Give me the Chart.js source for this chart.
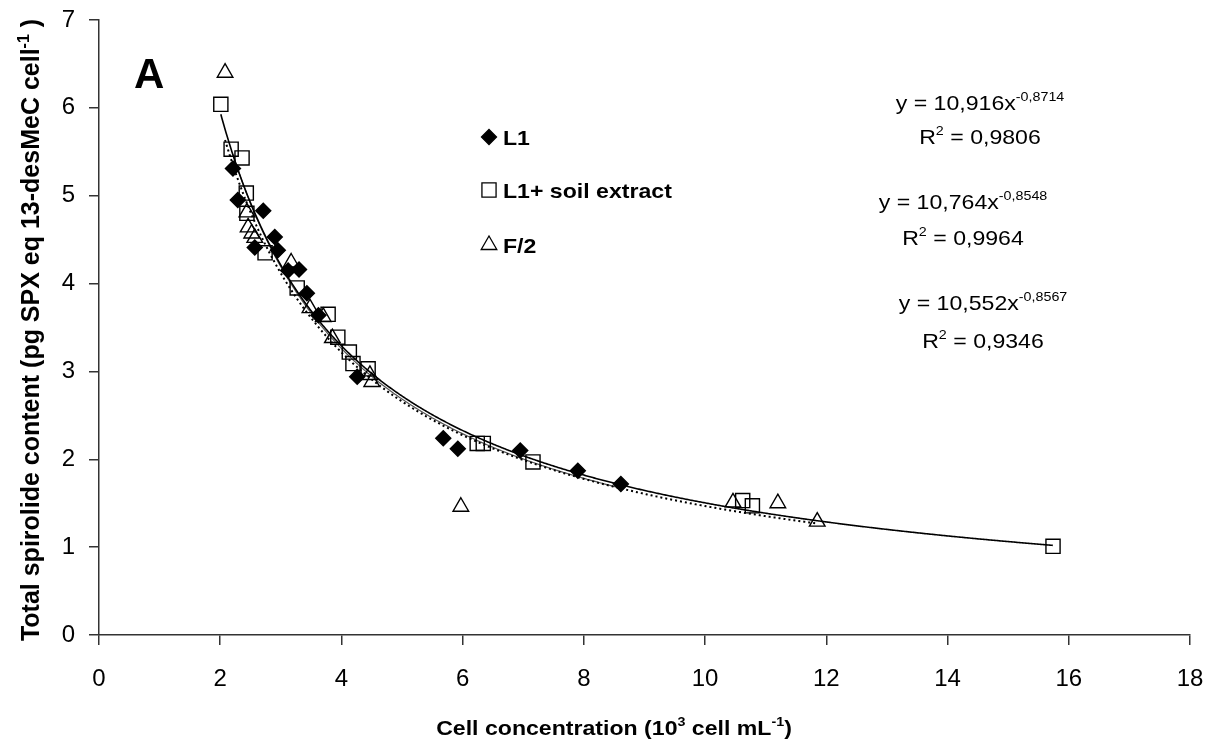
<!DOCTYPE html>
<html>
<head>
<meta charset="utf-8">
<script src="https://cdn.jsdelivr.net/npm/chart.js@4/dist/chart.umd.min.js"></script>
<style>
  html, body { margin: 0; padding: 0; background: #fff; }
  #wrap { width: 1225px; height: 749px; }
</style>
</head>
<body>
<div id="wrap"><canvas id="spxChart" width="1225" height="749"></canvas></div>
<script>
// Series names (legend)
const seriesNames = ['L1', 'L1+ soil extract', 'F/2'];

// L1 (filled diamonds)
const l1X = [2.21, 2.29, 2.71, 2.90, 2.57, 2.95, 3.12, 3.30, 3.43, 3.62, 4.26, 5.68, 5.92, 6.95, 7.90, 8.61];
const l1Y = [5.31, 4.95, 4.83, 4.53, 4.41, 4.38, 4.15, 4.16, 3.89, 3.64, 2.94, 2.24, 2.12, 2.10, 1.87, 1.72];

// L1 + soil extract (open squares)
const soilX = [2.01, 2.18, 2.36, 2.43, 2.44, 2.74, 3.27, 3.78, 3.94, 4.13, 4.19, 4.44, 6.24, 6.34, 7.16, 10.62, 10.78, 15.74];
const soilY = [6.04, 5.53, 5.43, 5.03, 4.80, 4.35, 3.95, 3.65, 3.39, 3.22, 3.09, 3.03, 2.18, 2.18, 1.97, 1.53, 1.47, 1.01];

// F/2 (open triangles)
const f2X = [2.08, 2.44, 2.46, 2.52, 2.57, 3.17, 3.48, 3.70, 3.85, 4.47, 4.50, 5.97, 10.46, 11.20, 11.85];
const f2Y = [6.40, 4.81, 4.64, 4.57, 4.52, 4.24, 3.72, 3.62, 3.38, 2.96, 2.88, 1.46, 1.51, 1.50, 1.29];

// Power trendlines y = a * x^b, as printed on the chart
const fitA = [10.916, 10.764, 10.552];
const fitB = [-0.8714, -0.8548, -0.8567];
const fitR2 = [0.9806, 0.9964, 0.9346];

// Axis ticks
const xTicks = [0, 2, 4, 6, 8, 10, 12, 14, 16, 18];
const yTicks = [0, 1, 2, 3, 4, 5, 6, 7];

const FONT = "'Liberation Sans', Arial, Helvetica, sans-serif";
const AXIS_COLOR = '#333';
const TEXT_STRETCH = 1.1;

/**
 * Zip two arrays into scatter points
 */
function toPoints(xs, ys) {
  return xs.map((x, i) => ({ x: x, y: ys[i] }));
}

/**
 * Number with a decimal comma
 */
function fmt(v, digits) {
  return v.toFixed(digits).replace('.', ',');
}

/**
 * Draw a line of text made of parts, some of them superscript.
 * align: 'center' or 'left' relative to x
 */
function drawRich(ctx, parts, x, y, opts) {
  const weight = opts.bold ? 'bold ' : '';
  const size = opts.size;
  const supSize = Math.round(size * 0.62);
  const sx = opts.sx || 1;
  let total = 0;
  parts.forEach(p => {
    ctx.font = weight + (p.sup ? supSize : size) + 'px ' + FONT;
    p.w = ctx.measureText(p.t).width;
    total += p.w;
  });
  ctx.save();
  ctx.translate(x, y);
  ctx.scale(sx, 1);
  let cx = opts.align === 'left' ? 0 : -total / 2;
  ctx.textAlign = 'left';
  ctx.textBaseline = 'alphabetic';
  parts.forEach(p => {
    ctx.font = weight + (p.sup ? supSize : size) + 'px ' + FONT;
    ctx.fillText(p.t, cx, p.sup ? -size * 0.42 : 0);
    cx += p.w;
  });
  ctx.restore();
}

const seriesData = [toPoints(l1X, l1Y), toPoints(soilX, soilY), toPoints(f2X, f2Y)];
const seriesStyle = [
  { pointStyle: 'rectRot', radius: 7.5, fill: '#000', line: [], lineColor: '#555', lineWidth: 1.2 },
  { pointStyle: 'rect', radius: 10, fill: 'rgba(0,0,0,0)', line: [], lineColor: '#000', lineWidth: 1.6 },
  { pointStyle: 'triangle', radius: 9, fill: 'rgba(0,0,0,0)', line: [2, 3], lineColor: '#000', lineWidth: 2 }
];

// Trendlines drawn through the chart scales
const trendlinePlugin = {
  id: 'trendlines',
  beforeDatasetsDraw(chart) {
    const ctx = chart.ctx;
    const xs = chart.scales.x;
    const ys = chart.scales.y;
    ctx.save();
    seriesData.forEach((pts, i) => {
      const xVals = pts.map(p => p.x);
      const pxLo = xs.getPixelForValue(Math.min(...xVals));
      const pxHi = xs.getPixelForValue(Math.max(...xVals));
      ctx.beginPath();
      ctx.setLineDash(seriesStyle[i].line);
      ctx.strokeStyle = seriesStyle[i].lineColor;
      ctx.lineWidth = seriesStyle[i].lineWidth;
      for (let px = pxLo; px <= pxHi + 0.5; px += 1) {
        const v = xs.getValueForPixel(Math.min(px, pxHi));
        const py = ys.getPixelForValue(fitA[i] * Math.pow(v, fitB[i]));
        if (px === pxLo) ctx.moveTo(px, py); else ctx.lineTo(px, py);
      }
      ctx.stroke();
    });
    ctx.restore();
  }
};

// Titles, panel letter, legend and equations
const annotationPlugin = {
  id: 'annotations',
  afterDraw(chart) {
    const ctx = chart.ctx;
    ctx.save();
    ctx.fillStyle = '#000';

    // Panel letter
    ctx.font = 'bold 42px ' + FONT;
    ctx.textAlign = 'left';
    ctx.textBaseline = 'alphabetic';
    ctx.fillText('A', 134, 88);

    // X axis title
    drawRich(ctx, [
      { t: 'Cell concentration (10' }, { t: '3', sup: true },
      { t: ' cell mL' }, { t: '-1', sup: true }, { t: ')' }
    ], 614, 735, { size: 21, bold: true, sx: TEXT_STRETCH });

    // Y axis title
    ctx.save();
    ctx.translate(39, 330);
    ctx.rotate(-Math.PI / 2);
    drawRich(ctx, [
      { t: 'Total spirolide content (pg SPX eq 13-desMeC cell' }, { t: '-1', sup: true }, { t: ' )' }
    ], 0, 0, { size: 25, bold: true });
    ctx.restore();

    // Legend
    const legendY = [137, 190, 245];
    legendY.forEach((ly, i) => {
      const st = seriesStyle[i];
      ctx.save();
      ctx.strokeStyle = '#000';
      ctx.fillStyle = i === 0 ? '#000' : 'rgba(0,0,0,0)';
      ctx.lineWidth = 1.3;
      Chart.helpers.drawPoint(ctx, {
        pointStyle: st.pointStyle,
        radius: i === 0 ? 7.5 : (i === 1 ? 10 : 9),
        borderWidth: 1.3
      }, 489, ly);
      ctx.restore();
      ctx.fillStyle = '#000';
      drawRich(ctx, [{ t: seriesNames[i] }], 503, ly + 8, { size: 21, bold: true, sx: TEXT_STRETCH, align: 'left' });
    });

    // Trendline equations
    const eqPos = [[980, 110, 144], [963, 209, 245], [983, 310, 348]];
    eqPos.forEach((p, i) => {
      drawRich(ctx, [
        { t: 'y = ' + fmt(fitA[i], 3) + 'x' }, { t: fmt(fitB[i], 4), sup: true }
      ], p[0], p[1], { size: 21, sx: TEXT_STRETCH });
      drawRich(ctx, [
        { t: 'R' }, { t: '2', sup: true }, { t: ' = ' + fmt(fitR2[i], 4) }
      ], p[0], p[2], { size: 21, sx: TEXT_STRETCH });
    });
    ctx.restore();
  }
};

const ctx = document.getElementById('spxChart');

new Chart(ctx, {
  type: 'scatter',
  data: {
    datasets: seriesData.map((pts, i) => ({
      label: seriesNames[i],
      data: pts,
      pointStyle: seriesStyle[i].pointStyle,
      pointRadius: seriesStyle[i].radius,
      pointHoverRadius: seriesStyle[i].radius,
      backgroundColor: seriesStyle[i].fill,
      borderColor: '#000',
      borderWidth: 1.4,
      showLine: false
    }))
  },
  options: {
    responsive: false,
    animation: false,
    devicePixelRatio: 1,
    layout: { padding: { left: 0, right: 35, top: 20, bottom: 0 } },
    plugins: {
      legend: { display: false },
      tooltip: { enabled: false }
    },
    scales: {
      x: {
        type: 'linear',
        min: xTicks[0],
        max: xTicks[xTicks.length - 1],
        afterBuildTicks: (scale) => { scale.ticks = xTicks.map(v => ({ value: v })); },
        afterFit: (scale) => {
          scale.height = 114;
          scale.paddingLeft = 0;
          scale.paddingRight = 0;
        },
        grid: { drawOnChartArea: false, tickLength: 10, color: AXIS_COLOR, lineWidth: 1.5 },
        border: { color: AXIS_COLOR, width: 1.5 },
        ticks: { color: '#000', padding: 20, font: { family: FONT, size: 24 } }
      },
      y: {
        type: 'linear',
        min: yTicks[0],
        max: yTicks[yTicks.length - 1],
        afterBuildTicks: (scale) => { scale.ticks = yTicks.map(v => ({ value: v })); },
        afterFit: (scale) => {
          scale.width = 99;
          scale.paddingTop = 0;
          scale.paddingBottom = 0;
        },
        grid: { drawOnChartArea: false, tickLength: 10, color: AXIS_COLOR, lineWidth: 1.5 },
        border: { color: AXIS_COLOR, width: 1.5 },
        ticks: { color: '#000', padding: 14, font: { family: FONT, size: 24 } }
      }
    }
  },
  plugins: [trendlinePlugin, annotationPlugin]
});
</script>
</body>
</html>
